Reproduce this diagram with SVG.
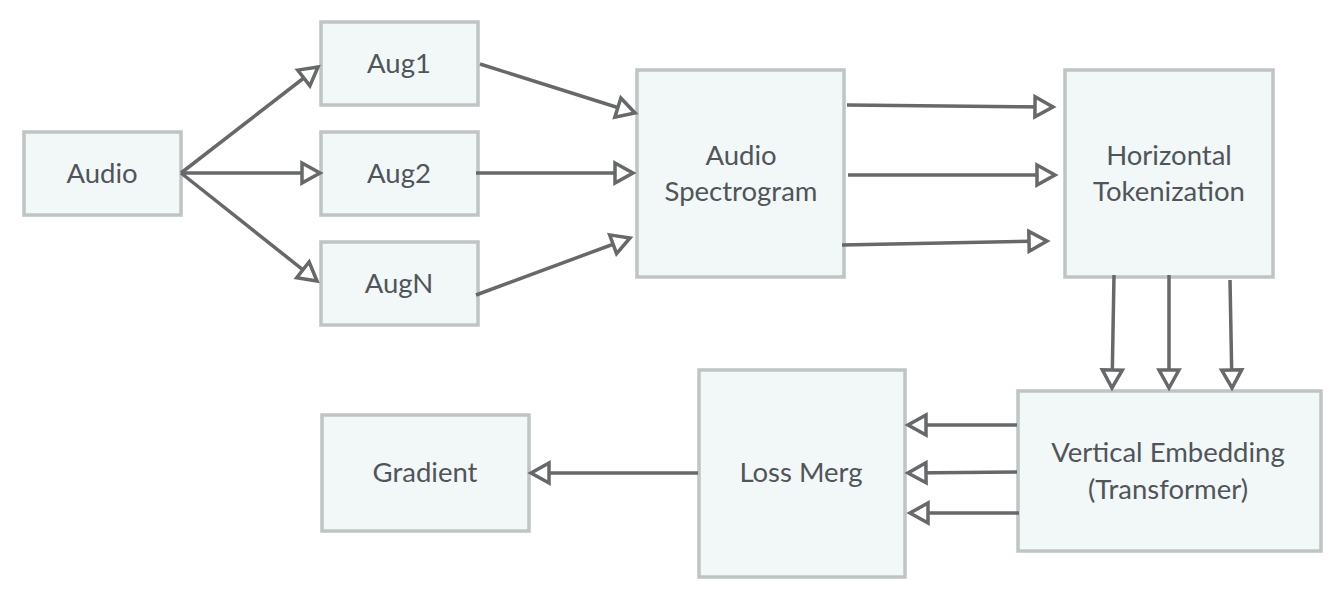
<svg xmlns="http://www.w3.org/2000/svg" width="1340" height="602" viewBox="0 0 1340 602">
<style>
.box{fill:#f2f7f7;stroke:#bfc4c4;stroke-width:3.5}
.lbl{font-family:Lato,"Noto Sans",sans-serif;font-size:27.5px;fill:#50555a;text-anchor:middle}
.c{fill:none;stroke:#666869;stroke-width:3.5;marker-end:url(#ah)}
</style>
<defs>
<marker id="ah" markerUnits="userSpaceOnUse" markerWidth="28" markerHeight="28" viewBox="0 0 28 28" refX="22" refY="14" orient="auto">
<path d="M4,4 L22,14 L4,24 Z" fill="#ffffff" stroke="#666869" stroke-width="3.5" stroke-linejoin="miter"/>
</marker>
</defs>
<rect width="1340" height="602" fill="#ffffff"/>
<g id="audio"><rect class="box" x="24" y="132" width="157" height="83"/><text class="lbl" x="102" y="183">Audio</text></g>
<g id="aug1"><rect class="box" x="321" y="22" width="157" height="83"/><text class="lbl" x="399" y="73">Aug1</text></g>
<g id="aug2"><rect class="box" x="321" y="132" width="157" height="83"/><text class="lbl" x="399" y="183">Aug2</text></g>
<g id="augn"><rect class="box" x="321" y="242" width="157" height="83"/><text class="lbl" x="399" y="293">AugN</text></g>
<g id="spectrogram"><rect class="box" x="637" y="70" width="207" height="207"/><text class="lbl" x="741" y="165">Audio</text><text class="lbl" x="741" y="201">Spectrogram</text></g>
<g id="tokenization"><rect class="box" x="1065" y="70" width="208" height="207"/><text class="lbl" x="1169" y="165">Horizontal</text><text class="lbl" x="1169" y="201">Tokenization</text></g>
<g id="embedding"><rect class="box" x="1018" y="391" width="303" height="160"/><text class="lbl" x="1168" y="462">Vertical Embedding</text><text class="lbl" x="1168" y="499">(Transformer)</text></g>
<g id="lossmerg"><rect class="box" x="699" y="370" width="206" height="207"/><text class="lbl" x="801" y="482">Loss Merg</text></g>
<g id="gradient"><rect class="box" x="322" y="415" width="207" height="116"/><text class="lbl" x="425" y="482">Gradient</text></g>
<g id="connectors">
<path class="c" d="M181,173 L318,67"/>
<path class="c" d="M181,173 L320,173"/>
<path class="c" d="M181,173 L317,281"/>
<path class="c" d="M480,64 L635,113"/>
<path class="c" d="M476,173 L633,173"/>
<path class="c" d="M476,295 L630,238"/>
<path class="c" d="M847,105 L1053,107"/>
<path class="c" d="M848,175 L1055,175"/>
<path class="c" d="M842,245 L1047,241"/>
<path class="c" d="M1114,275 L1112,388"/>
<path class="c" d="M1169,275 L1169,388"/>
<path class="c" d="M1230,280 L1232,388"/>
<path class="c" d="M1017,425 L908,425"/>
<path class="c" d="M1017,472 L908,473"/>
<path class="c" d="M1019,513 L910,513"/>
<path class="c" d="M698,473 L531,473"/>
</g>
</svg>
